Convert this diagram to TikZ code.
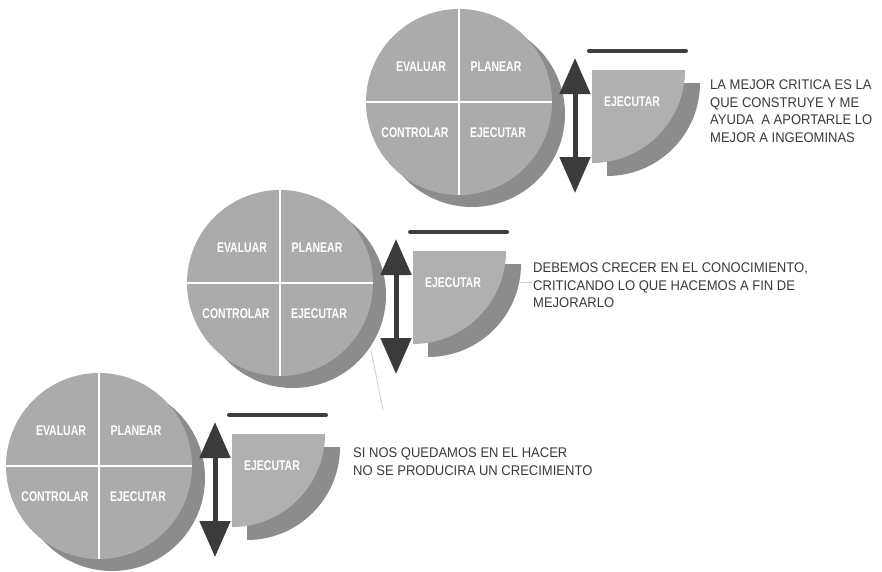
\documentclass[tikz,border=0pt]{standalone}
\usepackage{fontspec}
\setmainfont{Liberation Sans}
\newfontfamily\bodyfont{Liberation Sans}[FakeStretch=0.93]
\newfontfamily\lblfont{Liberation Sans}[FakeStretch=0.75]
\usetikzlibrary{arrows.meta}
\definecolor{discgray}{HTML}{ABABAB}
\definecolor{quartgray}{HTML}{B0B0B0}
\definecolor{shadowgray}{HTML}{8C8C8C}
\definecolor{arrowgray}{HTML}{3B3B3B}
\definecolor{bargray}{HTML}{3F3F3F}
\definecolor{textgray}{HTML}{3A3A3A}
\definecolor{faintgray}{HTML}{D0D0D0}
\tikzset{
  disc/.style={circle, fill=discgray, minimum size=186pt, inner sep=0pt, draw=none},
  discshadow/.style={disc, fill=shadowgray},
  divider/.style={draw=white, line width=2.5pt},
  lbl/.style={text=white, font={\lblfont\bfseries\fontsize{14}{14}\selectfont}, inner sep=0pt},
  body/.style={text=textgray, font={\bodyfont\fontsize{14}{17.5}\selectfont}, align=left, inner sep=0pt, anchor=north west},
  dblarrow/.style={draw=arrowgray, line width=5pt, {Triangle[width=30pt,length=36pt]}-{Triangle[width=30pt,length=36pt]}},
  topbar/.style={draw=bargray, line width=4pt, line cap=round},
  faint/.style={draw=faintgray, line width=0.8pt}
}
\newcommand{\pdcaunit}[3]{%
  \begin{scope}[shift={(#2,#3)}]
    \node[discshadow] (#1s) at (13,12) {};
    \node[disc] (#1c) at (0,0) {};
    \draw[divider] (#1c.west) -- (#1c.east);
    \draw[divider] (#1c.north) -- (#1c.south);
    \node[lbl] (#1ev) at (-38,-35) {EVALUAR};
    \node[lbl] (#1pl) at (37,-35) {PLANEAR};
    \node[lbl] (#1co) at (-44,31) {CONTROLAR};
    \node[lbl] (#1ej) at (39,31) {EJECUTAR};
    \coordinate (#1at) at (116,-44);
    \coordinate (#1ab) at (116,91);
    \draw[dblarrow] (#1at) -- (#1ab);
    \coordinate (#1bl) at (130,-51);
    \coordinate (#1br) at (227,-51);
    \draw[topbar] (#1bl) -- (#1br);
    \begin{scope}
      \clip (148,-19) rectangle ++(93,93);
      \fill[shadowgray] (148,-19) circle[radius=93pt];
    \end{scope}
    \begin{scope}
      \clip (133,-32) rectangle ++(93,93);
      \fill[quartgray] (133,-32) circle[radius=93pt];
    \end{scope}
    \node[lbl] (#1q) at (173,0) {EJECUTAR};
  \end{scope}}
\begin{document}
\begin{tikzpicture}[x=1pt,y=-1pt]
  \useasboundingbox (0,0) rectangle (882,571);
  \fill[white] (0,0) rectangle (882,571);
  \pdcaunit{u1}{459}{102}
  \pdcaunit{u2}{280}{283}
  \pdcaunit{u3}{99}{466}
  \coordinate (f1a) at (371,350);
  \coordinate (f1b) at (383,410);
  \draw[faint] (f1a) -- (f1b);
  \coordinate (f2a) at (519,282);
  \coordinate (f2b) at (532,282);
  \draw[faint] (f2a) -- (f2b);
  \node[body] (t1) at (710,80) {LA MEJOR CRITICA ES LA\\QUE CONSTRUYE Y ME\\AYUDA\ \ A APORTARLE LO\\MEJOR A INGEOMINAS};
  \node[body] (t2) at (533,263) {DEBEMOS CRECER EN EL CONOCIMIENTO,\\CRITICANDO LO QUE HACEMOS A FIN DE\\MEJORARLO};
  \node[body] (t3) at (353,448) {SI NOS QUEDAMOS EN EL HACER\\NO SE PRODUCIRA UN CRECIMIENTO};
\end{tikzpicture}
\end{document}
